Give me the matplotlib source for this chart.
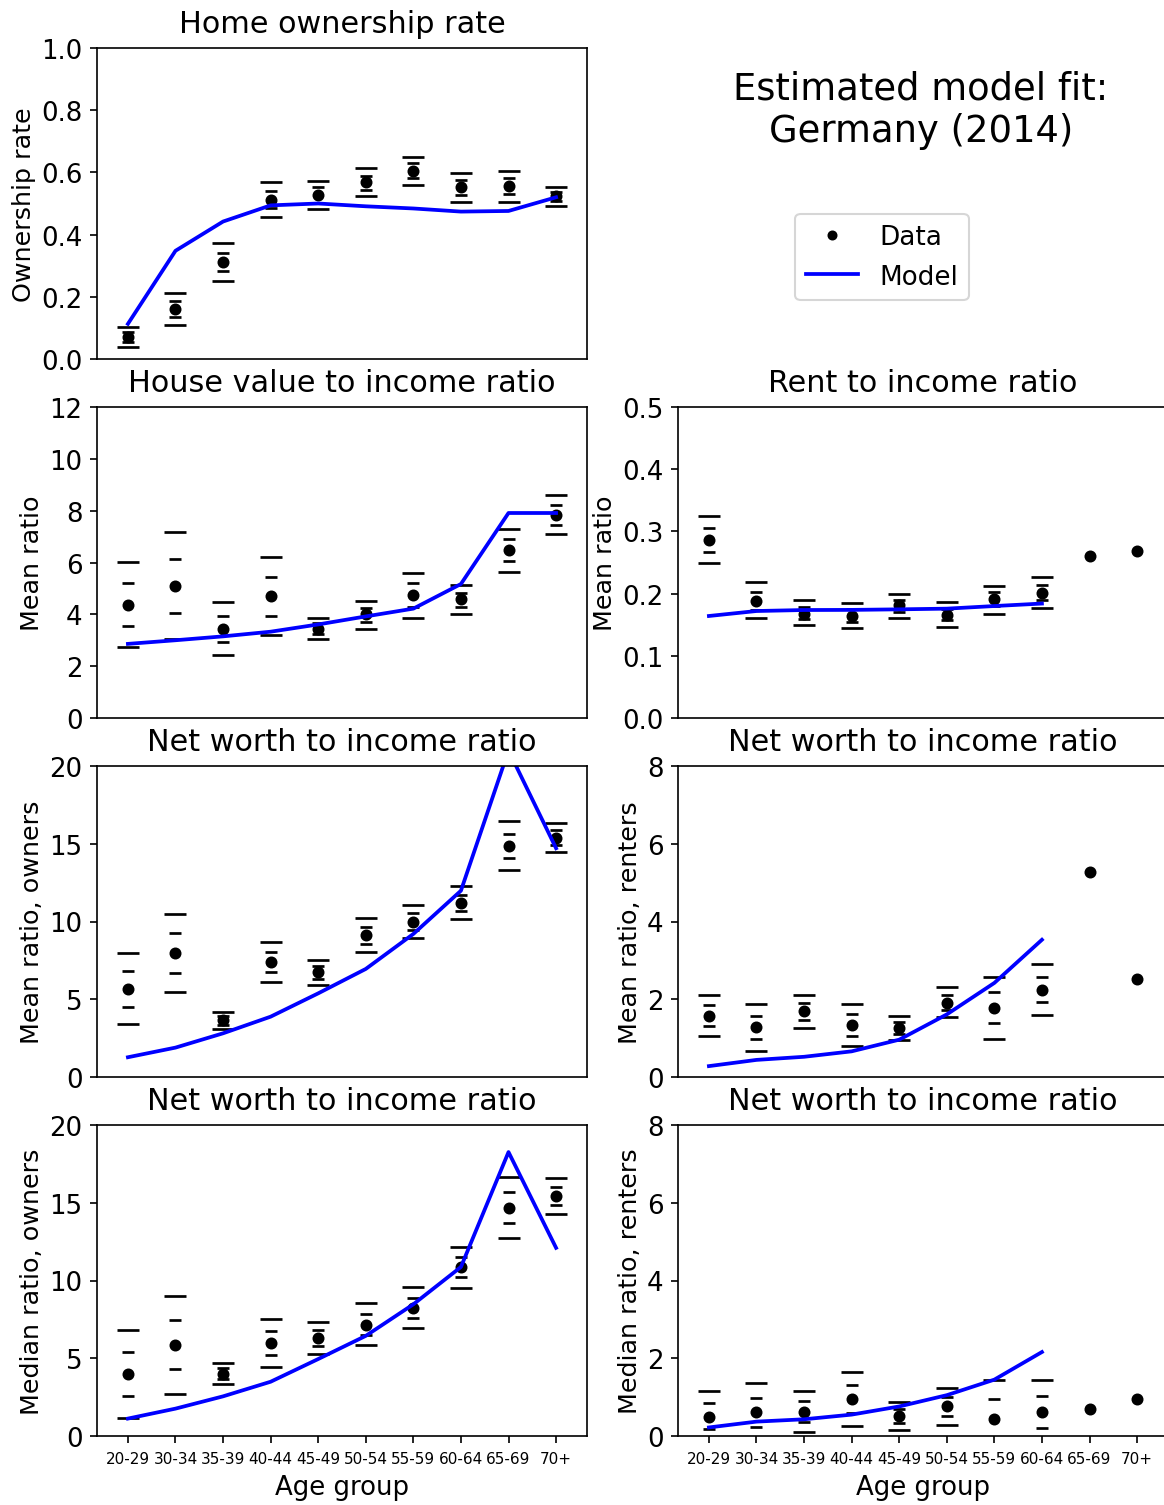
import numpy as np
import matplotlib
matplotlib.use("Agg")
import matplotlib.pyplot as plt


ages = ['20-29', '30-34', '35-39', '40-44', '45-49', '50-54', '55-59', '60-64', '65-69', '70+']

# home ownership rate
own_data = [0.072, 0.161, 0.311, 0.512, 0.527, 0.568, 0.606, 0.552, 0.556, 0.523]
own_in_lo = [0.056, 0.136, 0.282, 0.484, 0.503, 0.545, 0.583, 0.528, 0.531, 0.508]
own_in_hi = [0.088, 0.185, 0.342, 0.541, 0.552, 0.590, 0.629, 0.575, 0.581, 0.536]
own_out_lo = [0.040, 0.110, 0.250, 0.455, 0.481, 0.523, 0.560, 0.505, 0.505, 0.491]
own_out_hi = [0.102, 0.212, 0.372, 0.570, 0.573, 0.613, 0.651, 0.597, 0.605, 0.552]
own_model = [0.113, 0.348, 0.442, 0.494, 0.500, 0.491, 0.484, 0.474, 0.476, 0.520]

# house value to income
hv_data = [4.37, 5.09, 3.43, 4.71, 3.43, 4.01, 4.73, 4.58, 6.48, 7.84]
hv_in_lo = [3.55, 4.06, 2.92, 3.95, 3.24, 3.72, 4.29, 4.29, 6.06, 7.46]
hv_in_hi = [5.20, 6.12, 3.95, 5.45, 3.67, 4.24, 5.20, 4.84, 6.89, 8.22]
hv_out_lo = [2.74, 3.05, 2.42, 3.20, 3.05, 3.45, 3.86, 4.01, 5.64, 7.10]
hv_out_hi = [6.01, 7.16, 4.46, 6.21, 3.86, 4.51, 5.61, 5.14, 7.30, 8.59]
hv_model = [2.86, 3.00, 3.15, 3.33, 3.61, 3.92, 4.22, 5.17, 7.91, 7.91]

# rent to income
rent_data = [0.286, 0.188, 0.168, 0.164, 0.181, 0.166, 0.191, 0.2015, 0.261, 0.269]
rent_in_lo = [0.267, 0.174, 0.159, 0.154, 0.170, 0.157, 0.180, 0.189]
rent_in_hi = [0.305, 0.203, 0.179, 0.175, 0.190, 0.176, 0.202, 0.214]
rent_out_lo = [0.249, 0.160, 0.149, 0.144, 0.161, 0.147, 0.168, 0.177]
rent_out_hi = [0.324, 0.218, 0.189, 0.185, 0.199, 0.187, 0.213, 0.226]
rent_model = [0.164, 0.172, 0.1736, 0.1738, 0.1747, 0.1758, 0.180, 0.184]

# net worth to income, owners (mean)
nwo_data = [5.68, 7.99, 3.67, 7.40, 6.73, 9.13, 9.99, 11.19, 14.87, 15.39]
nwo_in_lo = [4.52, 6.71, 3.36, 6.77, 6.32, 8.57, 9.47, 10.68, 14.10, 14.92]
nwo_in_hi = [6.80, 9.24, 3.94, 8.02, 7.14, 9.67, 10.53, 11.72, 15.65, 15.88]
nwo_out_lo = [3.39, 5.47, 3.09, 6.13, 5.92, 8.04, 8.96, 10.16, 13.31, 14.45]
nwo_out_hi = [7.95, 10.50, 4.20, 8.66, 7.54, 10.23, 11.06, 12.26, 16.44, 16.35]
nwo_model = [1.27, 1.89, 2.81, 3.88, 5.38, 6.95, 9.20, 11.98, 21.0, 14.71]

# net worth to income, renters (mean)
nwr_data = [1.58, 1.29, 1.69, 1.33, 1.27, 1.91, 1.77, 2.25, 5.27, 2.51]
nwr_in_lo = [1.32, 0.98, 1.47, 1.06, 1.11, 1.72, 1.38, 1.92]
nwr_in_hi = [1.85, 1.58, 1.90, 1.61, 1.41, 2.11, 2.18, 2.58]
nwr_out_lo = [1.05, 0.68, 1.25, 0.79, 0.96, 1.54, 0.99, 1.59]
nwr_out_hi = [2.12, 1.88, 2.12, 1.89, 1.56, 2.31, 2.57, 2.91]
nwr_model = [0.28, 0.44, 0.52, 0.66, 0.96, 1.61, 2.42, 3.53]

# net worth to income, owners (median)
mdo_data = [3.99, 5.87, 4.01, 5.97, 6.29, 7.17, 8.24, 10.87, 14.69, 15.46]
mdo_in_lo = [2.58, 4.31, 3.67, 5.20, 5.78, 6.51, 7.60, 10.21, 13.71, 14.86]
mdo_in_hi = [5.42, 7.45, 4.35, 6.76, 6.81, 7.85, 8.90, 11.53, 15.67, 16.04]
mdo_out_lo = [1.14, 2.72, 3.32, 4.41, 5.27, 5.82, 6.94, 9.54, 12.74, 14.28]
mdo_out_hi = [6.83, 9.03, 4.69, 7.55, 7.32, 8.54, 9.56, 12.17, 16.63, 16.62]
mdo_model = [1.12, 1.76, 2.55, 3.49, 4.95, 6.44, 8.47, 10.87, 18.26, 12.10]

# net worth to income, renters (median)
mdr_data = [0.50, 0.61, 0.63, 0.95, 0.52, 0.76, 0.45, 0.61, 0.69, 0.94]
mdr_in_lo = [0.17, 0.23, 0.36, 0.60, 0.335, 0.52, -0.05, 0.20]
mdr_in_hi = [0.84, 0.98, 0.89, 1.30, 0.70, 1.00, 0.95, 1.02]
mdr_out_lo = [-0.16, -0.14, 0.10, 0.25, 0.15, 0.28, -0.55, -0.22]
mdr_out_hi = [1.16, 1.36, 1.16, 1.64, 0.88, 1.24, 1.45, 1.44]
mdr_model = [0.22, 0.37, 0.43, 0.55, 0.76, 1.05, 1.45, 2.16]


def panel(ax, data, in_lo, in_hi, out_lo, out_hi, model, title, ylabel, ymax, ystep):
    x = np.arange(len(ages))
    n = len(out_lo)
    # outer and inner interval caps
    for lo, hi, ms in [(out_lo, out_hi, 10.5), (in_lo, in_hi, 6)]:
        ax.plot(x[:n], lo, ls='none', marker='_', ms=ms, mew=1.3, color='k')
        ax.plot(x[:n], hi, ls='none', marker='_', ms=ms, mew=1.3, color='k')
    dots, = ax.plot(x, data, 'k.', ms=9.5, label='Data')
    line, = ax.plot(x[:len(model)], model, 'b-', lw=1.8, label='Model')
    ax.set_title(title, fontsize=14.5, pad=7.5)
    ax.set_ylabel(ylabel, fontsize=12.2, labelpad=2.5)
    ax.set_ylim(0, ymax)
    ax.set_yticks(np.arange(0, ymax + ystep / 2, ystep))
    ax.tick_params(axis='y', labelsize=12.5)
    ax.set_xlim(-0.65, 9.65)
    ax.set_xticks([])
    return dots, line


fig = plt.figure(figsize=(1164 / 150, 1506 / 150), dpi=150)
axs = fig.subplots(4, 2)
fig.subplots_adjust(left=97 / 1164, right=1168 / 1164, top=1 - 49 / 1506,
                    bottom=1 - 1437 / 1506, wspace=91 / 490, hspace=48 / 311)

dots, line = panel(axs[0, 0], own_data, own_in_lo, own_in_hi, own_out_lo, own_out_hi, own_model,
                   'Home ownership rate', 'Ownership rate', 1.0, 0.2)
axs[0, 1].axis('off')
panel(axs[1, 0], hv_data, hv_in_lo, hv_in_hi, hv_out_lo, hv_out_hi, hv_model,
      'House value to income ratio', 'Mean ratio', 12, 2)
panel(axs[1, 1], rent_data, rent_in_lo, rent_in_hi, rent_out_lo, rent_out_hi, rent_model,
      'Rent to income ratio', 'Mean ratio', 0.5, 0.1)
panel(axs[2, 0], nwo_data, nwo_in_lo, nwo_in_hi, nwo_out_lo, nwo_out_hi, nwo_model,
      'Net worth to income ratio', 'Mean ratio, owners', 20, 5)
panel(axs[2, 1], nwr_data, nwr_in_lo, nwr_in_hi, nwr_out_lo, nwr_out_hi, nwr_model,
      'Net worth to income ratio', 'Mean ratio, renters', 8, 2)
panel(axs[3, 0], mdo_data, mdo_in_lo, mdo_in_hi, mdo_out_lo, mdo_out_hi, mdo_model,
      'Net worth to income ratio', 'Median ratio, owners', 20, 5)
panel(axs[3, 1], mdr_data, mdr_in_lo, mdr_in_hi, mdr_out_lo, mdr_out_hi, mdr_model,
      'Net worth to income ratio', 'Median ratio, renters', 8, 2)

for ax in axs[3]:
    ax.set_xticks(np.arange(len(ages)))
    ax.set_xticklabels(ages, fontsize=7.3)
    ax.set_xlabel('Age group', fontsize=12.5)

fig.text(0.791, 0.927, 'Estimated model fit:\nGermany (2014)', fontsize=17.7,
         ha='center', va='center')
fig.legend([dots, line], ['Data', 'Model'], loc='center', markerscale=0.8,
           bbox_to_anchor=(882 / 1164, 1 - 258 / 1506), fontsize=12.6)

fig.savefig('out.png', dpi=150)
